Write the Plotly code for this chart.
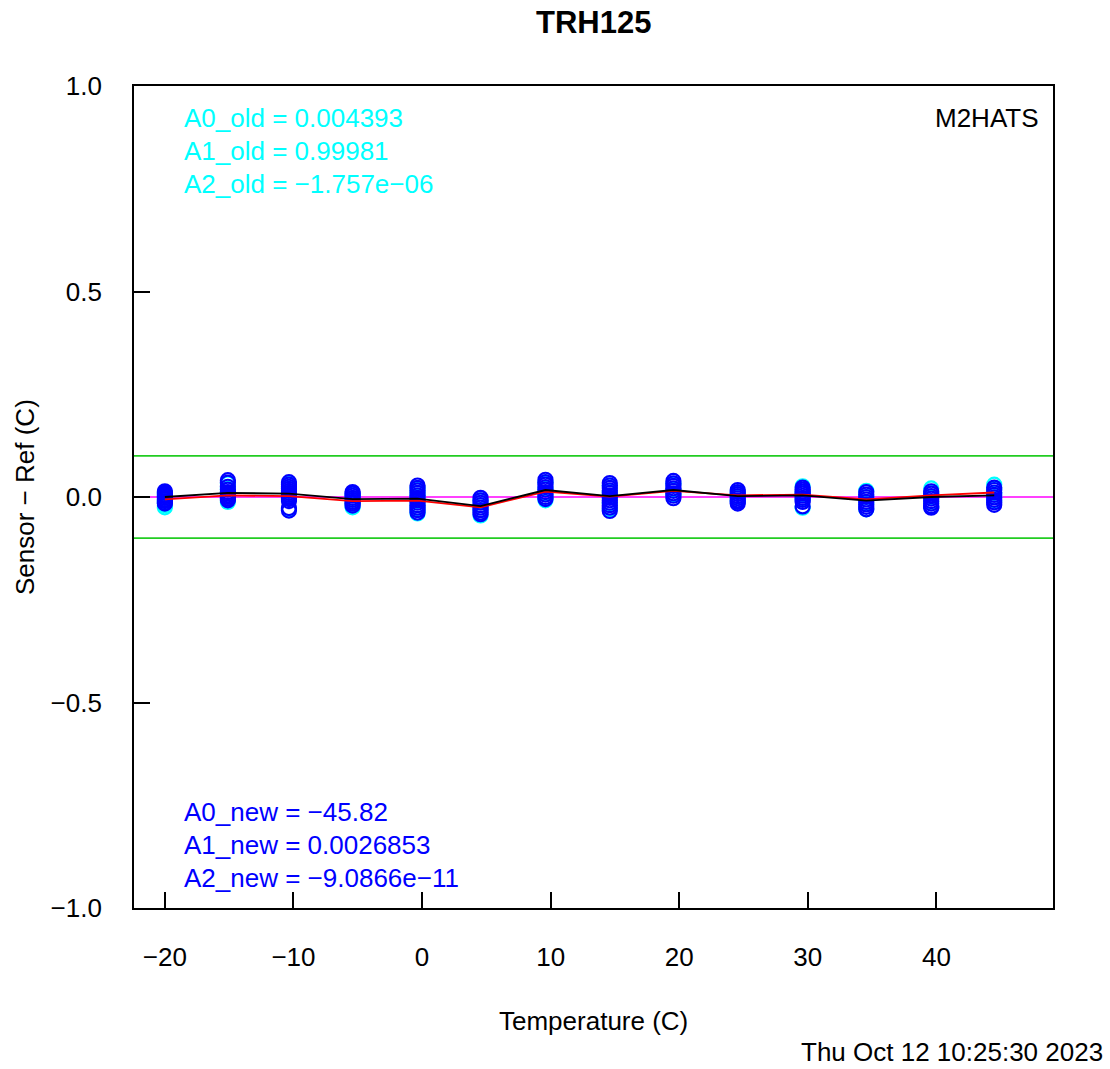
import plotly.graph_objects as go

# ---- data ----
temps = [-20.0, -15.1, -10.35, -5.4, -0.35, 4.55, 9.6, 14.6, 19.55, 24.55, 29.6, 34.55, 39.6, 44.5]

blue_pts = [
    [0.014, 0.010, 0.006, 0.002, -0.002, -0.006, -0.010, -0.014, -0.016],
    [0.041, 0.035, 0.025, 0.018, 0.012, 0.008, 0.004, 0.0, -0.004, -0.008],
    [0.036, 0.030, 0.025, 0.020, 0.015, 0.010, 0.005, 0.0, -0.005, -0.010, -0.027, -0.033],
    [0.012, 0.008, 0.003, -0.002, -0.007, -0.012, -0.016, -0.021],
    [0.028, 0.022, 0.016, 0.010, 0.004, -0.002, -0.008, -0.014, -0.020, -0.026, -0.032, -0.038],
    [-0.002, -0.008, -0.014, -0.020, -0.026, -0.032, -0.038, -0.042],
    [0.042, 0.036, 0.030, 0.024, 0.018, 0.012, 0.006, 0.0, -0.005],
    [0.034, 0.028, 0.022, 0.016, 0.010, 0.004, -0.002, -0.008, -0.014, -0.020, -0.026, -0.034],
    [0.039, 0.033, 0.027, 0.021, 0.015, 0.009, 0.003, -0.003],
    [0.017, 0.012, 0.007, 0.002, -0.003, -0.008, -0.012, -0.016],
    [0.023, 0.018, 0.013, 0.008, 0.003, -0.002, -0.007, -0.012, -0.023],
    [0.012, 0.006, 0.0, -0.006, -0.012, -0.018, -0.024, -0.030],
    [0.014, 0.008, 0.002, -0.004, -0.010, -0.016, -0.022, -0.026],
    [0.023, 0.017, 0.011, 0.005, -0.001, -0.007, -0.013, -0.019],
]

cyan_pts = [
    [0.010, 0.004, -0.002, -0.008, -0.014, -0.020, -0.025],
    [0.033, 0.020, 0.010, 0.002, -0.005, -0.012],
    [0.032, 0.022, 0.012, 0.004, -0.004, -0.030],
    [0.006, -0.004, -0.012, -0.018, -0.025],
    [0.020, 0.010, 0.0, -0.010, -0.020, -0.030, -0.040],
    [-0.008, -0.020, -0.032, -0.045],
    [0.035, 0.020, 0.008, -0.002, -0.008],
    [0.028, 0.012, 0.0, -0.015, -0.030],
    [0.032, 0.018, 0.005],
    [0.010, 0.0, -0.010],
    [0.026, 0.010, -0.005, -0.026],
    [0.015, 0.0, -0.015, -0.030],
    [0.021, 0.010, 0.0, -0.012, -0.024],
    [0.030, 0.020, 0.010, 0.0, -0.010],
]

black_line = [0.000, 0.010, 0.008, -0.005, -0.004, -0.022, 0.017, 0.002, 0.017, 0.002, 0.004, -0.009, 0.000, 0.004]
red_line = [-0.006, 0.004, 0.002, -0.010, -0.009, -0.025, 0.013, 0.001, 0.015, 0.004, 0.006, -0.006, 0.004, 0.011]

limit_band = [-0.1, 0.1]

x_ticks = [-20, -10, 0, 10, 20, 30, 40]
x_ticklabels = ["\u221220", "\u221210", "0", "10", "20", "30", "40"]
y_ticks = [-1.0, -0.5, 0.0, 0.5, 1.0]
y_ticklabels = ["\u22121.0", "\u22120.5", "0.0", "0.5", "1.0"]

title_text = "TRH125"
old_coef_text = ["A0_old = 0.004393", "A1_old = 0.99981", "A2_old = \u22121.757e\u221206"]
new_coef_text = ["A0_new = \u221245.82", "A1_new = 0.0026853", "A2_new = \u22129.0866e\u221211"]
project_text = "M2HATS"
date_text = "Thu Oct 12 10:25:30 2023"
xlabel = "Temperature (C)"
ylabel = "Sensor \u2212 Ref (C)"

# ---- figure ----
FONT = "Liberation Sans, Arial, sans-serif"
XR = [-22.4, 49.07]
YR = [-1.0, 1.0]

fig = go.Figure()

# horizontal reference lines
for v in limit_band:
    fig.add_trace(go.Scatter(x=XR, y=[v, v], mode="lines",
                             line=dict(color="#22CC22", width=1.6),
                             hoverinfo="skip", showlegend=False))
fig.add_trace(go.Scatter(x=XR, y=[0, 0], mode="lines",
                         line=dict(color="#FF00FF", width=1.4),
                         hoverinfo="skip", showlegend=False))

def flat(pts):
    xs, ys = [], []
    for t, vals in zip(temps, pts):
        for v in vals:
            xs.append(t)
            ys.append(v)
    return xs, ys

cx, cy = flat(cyan_pts)
bx, by = flat(blue_pts)

fig.add_trace(go.Scatter(x=cx, y=cy, mode="markers",
                         marker=dict(symbol="circle-open", size=14, color="#00FFFF",
                                     line=dict(width=2.2, color="#00FFFF")),
                         showlegend=False))
fig.add_trace(go.Scatter(x=bx, y=by, mode="markers",
                         marker=dict(symbol="circle-open", size=14, color="#0000FF",
                                     line=dict(width=2.2, color="#0000FF")),
                         showlegend=False))

fig.add_trace(go.Scatter(x=temps, y=red_line, mode="lines",
                         line=dict(color="#FF0000", width=1.8), showlegend=False))
fig.add_trace(go.Scatter(x=temps, y=black_line, mode="lines",
                         line=dict(color="#000000", width=1.8), showlegend=False))

L, R, T, B = 134, 57, 86, 161
W, H = 1110, 1069
PW, PH = W - L - R, H - T - B

def px(x):
    return (x - L) / PW

def py(y):
    return (H - B - y) / PH

annotations = []
annotations.append(dict(text="<b>%s</b>" % title_text, x=px(593.5), y=py(23), xref="paper", yref="paper",
                        showarrow=False, xanchor="center", yanchor="middle",
                        font=dict(family=FONT, size=31, color="black")))
for i, t in enumerate(old_coef_text):
    annotations.append(dict(text=t, x=px(182), y=py(118 + 33 * i), xref="paper", yref="paper",
                            showarrow=False, xanchor="left", yanchor="middle",
                            font=dict(family=FONT, size=26, color="#00FFFF")))
for i, t in enumerate(new_coef_text):
    annotations.append(dict(text=t, x=px(182), y=py(812 + 33 * i), xref="paper", yref="paper",
                            showarrow=False, xanchor="left", yanchor="middle",
                            font=dict(family=FONT, size=26, color="#0000FF")))
annotations.append(dict(text=project_text, x=px(1041), y=py(118), xref="paper", yref="paper",
                        showarrow=False, xanchor="right", yanchor="middle",
                        font=dict(family=FONT, size=26, color="black")))
annotations.append(dict(text=date_text, x=px(1105), y=py(1052), xref="paper", yref="paper",
                        showarrow=False, xanchor="right", yanchor="middle",
                        font=dict(family=FONT, size=26, color="black")))
annotations.append(dict(text=xlabel, x=px(593.5), y=py(1021), xref="paper", yref="paper",
                        showarrow=False, xanchor="center", yanchor="middle",
                        font=dict(family=FONT, size=26, color="black")))
annotations.append(dict(text=ylabel, x=px(25), y=py(497), xref="paper", yref="paper",
                        showarrow=False, xanchor="center", yanchor="middle", textangle=-90,
                        font=dict(family=FONT, size=26, color="black")))

fig.update_layout(
    width=W, height=H,
    margin=dict(l=L, r=R, t=T, b=B, pad=0),
    paper_bgcolor="white", plot_bgcolor="white",
    showlegend=False,
    annotations=annotations,
    xaxis=dict(range=XR, tickvals=x_ticks, ticktext=x_ticklabels,
               ticks="inside", ticklen=16, tickwidth=1.6, tickcolor="black",
               showline=True, mirror=True, linecolor="black", linewidth=1.8,
               showgrid=False, zeroline=False, ticklabelstandoff=25,
               tickfont=dict(family=FONT, size=26, color="black")),
    yaxis=dict(range=YR, tickvals=y_ticks, ticktext=y_ticklabels,
               ticks="inside", ticklen=16, tickwidth=1.6, tickcolor="black",
               showline=True, mirror=True, linecolor="black", linewidth=1.8,
               showgrid=False, zeroline=False, ticklabelstandoff=25,
               tickfont=dict(family=FONT, size=26, color="black")),
)

fig.write_html("out.html")
